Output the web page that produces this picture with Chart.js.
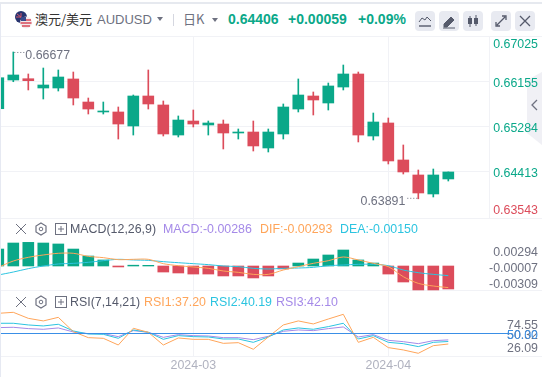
<!DOCTYPE html>
<html>
<head>
<meta charset="utf-8">
<script src="https://cdn.jsdelivr.net/npm/chart.js@4/dist/chart.umd.min.js"></script>
<style>
html, body { margin: 0; padding: 0; background: #fff; }
body { position: relative; width: 542px; height: 377px; overflow: hidden; font-family: "Liberation Sans", Arial, sans-serif; }
canvas { position: absolute; left: 1px; z-index: 1; }
.t { position: absolute; white-space: nowrap; line-height: 16px; font-size: 12.4px; }
.line { position: absolute; background: #f1f2f6; }
.btn { position: absolute; top: 11px; width: 20px; height: 20px; border-radius: 4px; background: #e8eaf1; }
.btn svg, .ic { position: absolute; left: 0; top: 0; }
.up { color: #0aa889; font-weight: bold; font-size: 14px; }
</style>
</head>
<body>
<div class="line" style="left:0;top:2px;width:542px;height:2px;background:#e6e9ef"></div>
<div class="line" style="left:0;top:4px;width:1px;height:373px;background:#e6e9f2"></div>
<div class="line" style="left:1px;top:36px;width:541px;height:1px"></div>
<div class="line" style="left:1px;top:218px;width:541px;height:1px"></div>
<div class="line" style="left:1px;top:290px;width:541px;height:1px"></div>
<div class="line" style="left:1px;top:356px;width:541px;height:1px"></div>
<div class="line" style="left:489px;top:36px;width:1px;height:182px"></div>

<canvas id="main" width="537" height="182" style="top:36px"></canvas>
<canvas id="macd" width="537" height="73" style="top:218px"></canvas>
<canvas id="rsi" width="537" height="86" style="top:291px"></canvas>

<!-- header -->
<svg class="ic" style="left:14px;top:10px" width="20" height="20">
  <circle cx="7" cy="7" r="6" fill="#27346f"/><path d="M3 4l4 3M7 3v5M2 7h5" stroke="#d5566a" stroke-width="1"/>
  <circle cx="12" cy="12.5" r="6" fill="#f3e9ea"/><path d="M7 10h10M6.5 13h11M8 16h8" stroke="#d8485a" stroke-width="1.4"/>
  <path d="M7 7h5v4H7z" fill="#3a4a8c"/>
</svg>
<span class="t" style="left:35px;top:11px;color:#333;font-size:13px;font-family:'Noto Sans CJK SC'">澳元/美元</span>
<span class="t" style="left:97px;top:12px;color:#6e7180;font-size:13px">AUDUSD</span>
<svg class="ic" style="left:157px;top:17px" width="6" height="4"><path d="M0 0h6L3 4z" fill="#6e7180"/></svg>
<div class="line" style="left:173px;top:14px;width:1px;height:12px;background:#d5d7e0"></div>
<span class="t" style="left:183px;top:11px;color:#6e7180;font-size:13px;font-family:'Noto Sans CJK SC'">日K</span>
<svg class="ic" style="left:212px;top:18px" width="6" height="4"><path d="M0 0h6L3 4z" fill="#6e7180"/></svg>
<span class="t up" style="left:228px;top:11px">0.64406</span>
<span class="t up" style="left:288px;top:11px">+0.00059</span>
<span class="t up" style="left:358px;top:11px">+0.09%</span>
<div class="btn" style="left:415px"><svg width="20" height="20"><path d="M4 11l3-4 3 2 2-3 4 4" fill="none" stroke="#555a6b"/><path d="M4 15h12" stroke="#555a6b" stroke-width="1.4"/></svg></div>
<div class="btn" style="left:439px"><svg width="20" height="20"><path d="M5 13l7-7 3 3-7 7H5zM4 17h12" fill="#555a6b" stroke="#555a6b"/></svg></div>
<div class="btn" style="left:463px"><svg width="20" height="20"><path d="M7 5v11M13 4v11" stroke="#555a6b"/><rect x="5" y="7" width="4" height="6" fill="#555a6b"/><rect x="11" y="7" width="4" height="6" fill="#555a6b"/></svg></div>
<div class="btn" style="left:491px"><svg width="20" height="20"><path d="M6 14l8-8M11 5h4v4M5 11v4h4" fill="none" stroke="#555a6b" stroke-width="1.3"/></svg></div>
<div class="btn" style="left:515px"><svg width="20" height="20"><path d="M5 5l10 10M15 5L5 15" stroke="#555a6b" stroke-width="1.3"/></svg></div>

<!-- side tab -->
<svg class="ic" style="left:527px;top:72px" width="15" height="73"><path d="M15 0L0 8v53l15 12z" fill="#f0f0f5"/><path d="M10 28l-5 5 5 5" fill="none" stroke="#6e7180" stroke-width="1.3"/></svg>

<!-- MACD legend -->
<svg class="ic" style="left:14px;top:222px;z-index:2" width="54" height="14">
  <path d="M2 2l10 10M12 2L2 12" stroke="#6e7180"/>
  <path d="M27 1l5 3v6l-5 3-5-3V4z" fill="none" stroke="#6e7180" stroke-width="1.2"/><circle cx="27" cy="7" r="1.8" fill="none" stroke="#6e7180"/>
  <rect x="41.5" y="1.5" width="11" height="11" fill="none" stroke="#6e7180"/><path d="M44 7h6M47 4v6" stroke="#6e7180"/>
</svg>
<span class="t" style="left:70px;top:221px;color:#555a6b;z-index:2">MACD(12,26,9)</span>
<span class="t" style="left:163px;top:221px;color:#a58ae8;z-index:2">MACD:-0.00286</span>
<span class="t" style="left:260px;top:221px;color:#ffa55a;z-index:2">DIF:-0.00293</span>
<span class="t" style="left:340px;top:221px;color:#2cc4e0;z-index:2">DEA:-0.00150</span>

<!-- RSI legend -->
<svg class="ic" style="left:14px;top:295px;z-index:2" width="54" height="14">
  <path d="M2 2l10 10M12 2L2 12" stroke="#6e7180"/>
  <path d="M27 1l5 3v6l-5 3-5-3V4z" fill="none" stroke="#6e7180" stroke-width="1.2"/><circle cx="27" cy="7" r="1.8" fill="none" stroke="#6e7180"/>
  <rect x="41.5" y="1.5" width="11" height="11" fill="none" stroke="#6e7180"/><path d="M44 7h6M47 4v6" stroke="#6e7180"/>
</svg>
<span class="t" style="left:70px;top:294px;color:#555a6b;z-index:2">RSI(7,14,21)</span>
<span class="t" style="left:144px;top:294px;color:#ffa55a;z-index:2">RSI1:37.20</span>
<span class="t" style="left:210px;top:294px;color:#2cc4e0;z-index:2">RSI2:40.19</span>
<span class="t" style="left:276px;top:294px;color:#a58ae8;z-index:2">RSI3:42.10</span>

<script>
// K线数据
const opens = [0.65625, 0.66178, 0.66203, 0.66024, 0.66024, 0.66198, 0.65754, 0.65562, 0.65562, 0.65292, 0.65870, 0.65697, 0.65118, 0.65388, 0.65311, 0.65330, 0.65157, 0.65176, 0.64868, 0.65138, 0.65619, 0.65870, 0.65735, 0.66043, 0.66294, 0.65099, 0.65350, 0.64637, 0.64348, 0.63982, 0.64271];
const closes = [0.66222, 0.66275, 0.66165, 0.66082, 0.66236, 0.65831, 0.65619, 0.65581, 0.65330, 0.65870, 0.65716, 0.65138, 0.65407, 0.65330, 0.65350, 0.65157, 0.65176, 0.64907, 0.65176, 0.65658, 0.65889, 0.65793, 0.66063, 0.66294, 0.65118, 0.65369, 0.64618, 0.64406, 0.64001, 0.64348, 0.64406];
const highs = [0.66300, 0.66718, 0.66294, 0.66409, 0.66371, 0.66332, 0.65831, 0.65754, 0.65658, 0.65889, 0.66371, 0.65774, 0.65485, 0.65600, 0.65388, 0.65407, 0.65234, 0.65388, 0.65234, 0.65716, 0.66198, 0.65947, 0.66120, 0.66467, 0.66332, 0.65542, 0.65446, 0.64926, 0.64444, 0.64463, 0.64406];
const lows = [0.65560, 0.66145, 0.65986, 0.65812, 0.65966, 0.65697, 0.65523, 0.65523, 0.65041, 0.65118, 0.65619, 0.65099, 0.65080, 0.65273, 0.65118, 0.64849, 0.65041, 0.64810, 0.64791, 0.65041, 0.65562, 0.65504, 0.65600, 0.65986, 0.64984, 0.65022, 0.64560, 0.64367, 0.63889, 0.63924, 0.64232];

// MACD
const macdBars = [0.00211, 0.00286, 0.00294, 0.00286, 0.00274, 0.00211, 0.00124, 0.00075, -0.00012, 0.00010, 0.00008, -0.00075, -0.00087, -0.00100, -0.00100, -0.00124, -0.00124, -0.00149, -0.00124, -0.00037, 0.00037, 0.00087, 0.00137, 0.00199, 0.00075, 0.00037, -0.00100, -0.00199, -0.00298, -0.00298, -0.00286];
const difLine = [-0.00017, 0.00062, 0.00108, 0.00137, 0.00158, 0.00158, 0.00120, 0.00104, 0.00079, 0.00083, 0.00083, 0.00029, 0.00004, -0.00012, -0.00029, -0.00062, -0.00079, -0.00104, -0.00104, -0.00050, -0.00008, 0.00033, 0.00066, 0.00112, 0.00075, 0.00033, -0.00008, -0.00133, -0.00216, -0.00249, -0.00269];
const deaLine = [-0.00112, -0.00075, -0.00033, 0, 0.00025, 0.00033, 0.00046, 0.00066, 0.00083, 0.00075, 0.00070, 0.00054, 0.00041, 0.00029, 0.00017, 0, -0.00008, -0.00029, -0.00037, -0.00029, -0.00025, -0.00017, 0.00004, 0.00012, 0.00021, 0.00021, 0.00004, -0.00050, -0.00083, -0.00104, -0.00120];

// RSI
const rsi1 = [73.9, 75.1, 67.9, 64.8, 69.1, 52.0, 44.8, 44.0, 36.0, 56.0, 51.2, 36.0, 44.4, 42.8, 42.8, 38.0, 38.8, 30.9, 45.6, 60.0, 64.8, 61.2, 67.1, 72.7, 39.2, 45.2, 32.9, 30.1, 26.1, 35.2, 37.2];
const rsi2 = [62.0, 62.0, 60.0, 58.8, 60.8, 52.8, 49.2, 48.8, 44.0, 54.0, 51.2, 42.8, 47.2, 46.0, 45.6, 43.2, 43.2, 39.2, 45.6, 54.0, 56.4, 54.8, 58.0, 62.0, 43.2, 47.2, 39.2, 37.6, 34.1, 39.2, 40.2];
const rsi3 = [56.8, 57.2, 55.6, 54.8, 56.4, 51.6, 49.6, 49.6, 46.0, 53.2, 51.2, 45.2, 48.4, 47.2, 46.8, 44.8, 44.8, 42.4, 46.4, 52.4, 54.0, 53.2, 55.6, 57.6, 45.6, 48.4, 41.6, 40.0, 37.6, 41.2, 42.1];

// 刻度
const priceTicks = ['0.67025', '0.66155', '0.65284', '0.64413', '0.63543'];
const macdTicks = ['0.00294', '-0.00007', '-0.00309'];
const rsiTicks = ['74.55', '50.32', '26.09', '50.00'];
const dateIndex = [13, 26];
const dateLabels = ['2024-03', '2024-04'];
const highLabel = '0.66677';
const lowLabel = '0.63891';

const GREEN = '#0aa889', RED = '#dc4c5b', GREY = '#6e7180', GRID = '#f1f2f6';
const ORANGE = '#ffa55a', CYAN = '#2cc4e0', PURPLE = '#a58ae8', BLUE = '#3a8fe6';
const FONT = '"Liberation Sans", Arial, sans-serif';
const SIZE = 12.4;

const points = arr => arr.map((v, i) => ({ x: i, y: v }));

function xAxis(showLabels) {
    return {
        type: 'linear', min: 0.18, max: 32.713, offset: false,
        border: { display: false },
        grid: { color: GRID, drawTicks: false, offset: false },
        afterBuildTicks: a => { a.ticks = dateIndex.map(v => ({ value: v })); },
        afterFit: a => { if (showLabels) a.height = 21; a.paddingLeft = 0; a.paddingRight = 0; },
        ticks: {
            display: showLabels, autoSkip: false, maxRotation: 0, padding: 2, color: '#b0b2bf',
            font: { family: FONT, size: SIZE },
            callback: (v, i) => dateLabels[i]
        }
    };
}

// 刻度文字相对刻度的偏移，offsets 是每个刻度的像素偏移
function yAxis(labels, offsets, min, max, color) {
    return {
        position: 'right', min: min, max: max,
        border: { display: false },
        grid: { display: false, drawTicks: false },
        afterBuildTicks: a => { a.ticks = labels.map(s => ({ value: parseFloat(s) })); },
        afterFit: a => { a.width = 49; a.paddingTop = 0; a.paddingBottom = 0; },
        ticks: {
            autoSkip: false, crossAlign: 'far', padding: 0, color: color,
            font: c => ({ family: FONT, size: SIZE, lineHeight: (Math.abs(offsets[c.index]) * 2) + 'px' }),
            callback: (v, i) => offsets[i] > 0 ? ['', labels[i]] : [labels[i], '']
        }
    };
}

// 最高最低价标注
const extremeLabels = {
    id: 'extremeLabels',
    afterDatasetsDraw(chart) {
        const { ctx, scales: { x, y } } = chart;
        const hi = highs.indexOf(Math.max(...highs)), lo = lows.indexOf(Math.min(...lows));
        ctx.save();
        ctx.fillStyle = GREY;
        ctx.strokeStyle = GREY;
        ctx.font = SIZE + 'px ' + FONT;
        ctx.textBaseline = 'middle';
        ctx.setLineDash([1, 2]);
        const hx = x.getPixelForValue(hi), hy = y.getPixelForValue(highs[hi]);
        ctx.beginPath(); ctx.moveTo(hx + 1, hy + 0.5); ctx.lineTo(hx + 11, hy + 0.5); ctx.stroke();
        ctx.textAlign = 'left';
        ctx.fillText(highLabel, hx + 12, hy + 4);
        const lx = x.getPixelForValue(lo), ly = y.getPixelForValue(lows[lo]);
        ctx.beginPath(); ctx.moveTo(lx - 1, ly - 0.5); ctx.lineTo(lx - 11, ly - 0.5); ctx.stroke();
        ctx.textAlign = 'right';
        ctx.fillText(lowLabel, lx - 13, ly + 3);
        ctx.restore();
    }
};

// RSI 50 线，一直画到右边刻度区
const rsiBase = {
    id: 'rsiBase',
    afterDatasetsDraw(chart) {
        const { ctx, chartArea, scales: { y } } = chart;
        const py = Math.round(y.getPixelForValue(50)) + 0.5;
        ctx.save();
        ctx.strokeStyle = BLUE;
        ctx.beginPath(); ctx.moveTo(chartArea.left, py); ctx.lineTo(507, py); ctx.stroke();
        ctx.restore();
    }
};

const base = {
    responsive: false,
    animation: false,
    events: [],
    layout: { padding: 0 },
    plugins: { legend: { display: false }, tooltip: { enabled: false } }
};

// K线
const candleColors = closes.map((c, i) => c >= opens[i] ? GREEN : RED);
const mainY = yAxis(priceTicks, [9, 2, 2, 2, -6], 0.63519, 0.67026, c => c.index === 4 ? RED : GREEN);
mainY.grid = {
    drawTicks: false,
    color: c => (c.index === 0 || c.index === 4) ? 'transparent' : GRID
};
new Chart(document.getElementById('main'), {
    type: 'bar',
    data: {
        datasets: [{
            data: points(lows.map((l, i) => [l, highs[i]])),
            backgroundColor: candleColors, barThickness: 1, grouped: false, order: 2
        }, {
            data: points(opens.map((o, i) => [o, closes[i]])),
            backgroundColor: candleColors, barThickness: 11, grouped: false, order: 1
        }]
    },
    options: { ...base, scales: { x: xAxis(false), y: mainY } },
    plugins: [extremeLabels]
});

// MACD
new Chart(document.getElementById('macd'), {
    type: 'bar',
    data: {
        datasets: [{
            data: points(macdBars),
            backgroundColor: macdBars.map(v => v >= 0 ? GREEN : RED),
            barThickness: 11, order: 3
        }, {
            type: 'line', data: points(deaLine), borderColor: CYAN, borderWidth: 1,
            pointRadius: 0, tension: 0.3, order: 2
        }, {
            type: 'line', data: points(difLine), borderColor: ORANGE, borderWidth: 1,
            pointRadius: 0, tension: 0.3, order: 1
        }]
    },
    options: { ...base, scales: { x: xAxis(false), y: yAxis(macdTicks, [10, 2, -6], -0.00311, 0.00597, GREY) } }
});

// RSI
new Chart(document.getElementById('rsi'), {
    type: 'line',
    data: {
        datasets: [
            { data: points(rsi3), borderColor: PURPLE, borderWidth: 1, pointRadius: 0, order: 3 },
            { data: points(rsi2), borderColor: CYAN, borderWidth: 1, pointRadius: 0, order: 2 },
            { data: points(rsi1), borderColor: ORANGE, borderWidth: 1, pointRadius: 0, order: 1 }
        ]
    },
    options: {
        ...base,
        scales: {
            x: xAxis(true),
            y: yAxis(rsiTicks, [12.5, 2.5, -5, 2.5], 22.85, 100.6, c => c.index === 3 ? BLUE : GREY)
        }
    },
    plugins: [rsiBase]
});
</script>
</body>
</html>
